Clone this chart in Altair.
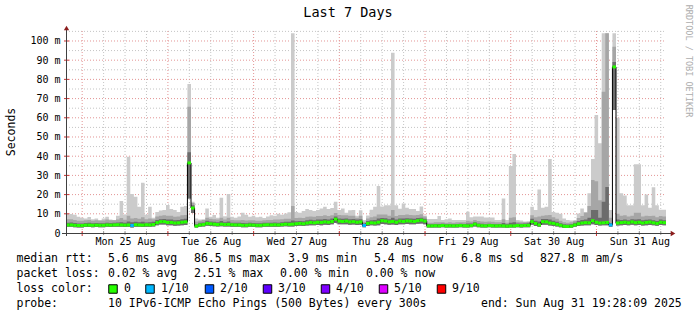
import altair as alt
import pandas as pd

START = "2025-08-24 19:28:09"

# hourly smoke/median values in milliseconds (axis shows "m" = milli-seconds)
mx = [9.9, 9.9, 9.5, 8.5, 8.0, 7.6, 8.3, 7.2, 7.6, 6.8, 7.6, 8.5,
      7.0, 6.8, 9.0, 16.7, 9.5, 39.7, 20.3, 18.9, 13.7, 26.2, 9.5, 13.7,
      8.0, 11.0, 11.7, 12.0, 14.6, 12.5, 12.0, 11.0, 13.7, 14.0, 77.6, 16.3,
      7.6, 7.0, 7.2, 12.8, 8.5, 9.4, 8.0, 18.4, 8.7, 20.3, 8.5, 8.0,
      8.6, 10.6, 9.5, 8.5, 9.0, 8.2, 8.5, 7.8, 8.6, 9.2, 9.0, 10.0,
      9.5, 10.2, 10.8, 104.0, 11.0, 10.5, 11.5, 12.5, 12.0, 11.5, 12.0, 12.8,
      13.7, 12.5, 13.0, 16.3, 12.0, 12.8, 10.6, 11.8, 12.0, 9.0, 11.8, 6.8,
      9.1, 12.1, 13.7, 24.5, 13.8, 14.5, 14.5, 93.9, 14.5, 12.6, 15.4, 13.2,
      12.5, 12.5, 11.4, 13.8, 9.1, 7.3, 7.3, 7.3, 8.9, 6.8, 7.2, 7.6,
      6.8, 6.8, 6.8, 6.8, 11.1, 8.2, 8.6, 8.6, 8.6, 8.1, 8.1, 8.1,
      6.8, 6.8, 18.0, 6.8, 34.9, 41.1, 6.8, 6.5, 6.0, 6.0, 13.7, 12.0,
      22.7, 13.2, 13.7, 38.5, 11.0, 10.6, 10.0, 7.6, 6.8, 6.5, 6.5, 10.2,
      12.8, 11.0, 20.7, 38.5, 61.5, 46.7, 104.0, 104.0, 12.0, 104.0, 60.0, 20.7,
      19.5, 14.5, 14.5, 35.8, 35.8, 14.5, 20.0, 13.2, 23.8, 14.5, 12.1, 12.1]

u2 = [7.2, 7.2, 6.8, 6.4, 6.4, 6.6, 6.8, 6.4, 6.6, 6.4, 6.5, 7.0,
      6.6, 6.6, 7.0, 7.8, 6.9, 9.0, 7.6, 7.8, 7.4, 8.2, 7.2, 7.6,
      7.2, 8.6, 9.0, 9.2, 9.0, 9.0, 8.5, 8.6, 9.2, 9.4, 65.8, 15.6,
      6.0, 6.4, 6.8, 8.0, 7.4, 7.2, 7.0, 8.0, 7.0, 8.0, 6.8, 6.6,
      6.6, 6.8, 6.5, 6.6, 6.6, 6.4, 6.4, 6.6, 6.8, 6.8, 7.0, 7.0,
      7.2, 7.4, 7.4, 14.0, 7.8, 8.0, 7.8, 8.4, 8.6, 8.4, 8.8, 8.8,
      9.2, 8.8, 9.2, 10.4, 9.4, 9.2, 9.2, 9.0, 9.0, 8.0, 9.0, 5.8,
      7.6, 8.2, 8.6, 9.6, 9.6, 9.6, 9.0, 12.0, 8.8, 9.4, 9.4, 9.6,
      9.4, 9.2, 9.4, 9.8, 8.6, 5.4, 5.4, 5.6, 5.6, 5.6, 5.4, 5.6,
      5.4, 5.6, 5.6, 5.6, 6.4, 6.0, 6.8, 6.2, 6.0, 5.8, 6.0, 5.8,
      5.6, 5.6, 7.2, 5.4, 8.0, 8.2, 5.8, 5.6, 5.6, 5.8, 9.2, 8.2,
      8.6, 9.0, 9.2, 9.4, 8.2, 7.4, 6.4, 5.6, 5.4, 5.6, 6.4, 7.8,
      8.8, 10.5, 14.0, 27.6, 27.0, 17.0, 73.5, 104.0, 8.0, 97.0, 10.0, 9.0,
      9.2, 8.6, 9.0, 10.5, 10.5, 8.6, 9.0, 8.8, 9.0, 8.2, 8.8, 8.6]

u3 = [5.4, 5.5, 5.2, 5.0, 5.0, 5.2, 5.3, 5.1, 5.2, 5.1, 5.1, 5.4,
      5.2, 5.3, 5.5, 5.6, 5.3, 6.0, 5.6, 5.8, 5.6, 5.9, 5.5, 5.6,
      5.8, 6.8, 7.2, 7.3, 7.0, 7.0, 6.6, 6.8, 7.2, 7.4, 42.0, 14.5,
      4.6, 5.3, 5.5, 6.4, 6.0, 5.8, 5.6, 6.2, 5.6, 6.0, 5.4, 5.3,
      5.3, 5.2, 5.1, 5.3, 5.2, 5.1, 5.1, 5.3, 5.4, 5.4, 5.5, 5.4,
      5.6, 5.8, 5.8, 6.5, 6.1, 6.3, 6.1, 6.6, 6.9, 6.7, 7.0, 7.0,
      7.3, 7.0, 7.5, 8.6, 7.6, 7.4, 7.6, 7.2, 7.3, 7.0, 7.2, 5.0,
      6.3, 6.7, 6.8, 7.5, 7.8, 7.7, 7.2, 8.0, 7.0, 7.6, 7.5, 7.7,
      7.6, 7.4, 7.8, 8.0, 7.4, 4.6, 4.6, 4.7, 4.7, 4.8, 4.6, 4.7,
      4.6, 4.7, 4.8, 4.7, 4.9, 4.9, 5.6, 5.0, 4.8, 4.6, 4.8, 4.7,
      4.6, 4.7, 5.2, 4.5, 5.4, 5.6, 4.9, 4.8, 4.9, 5.1, 7.4, 6.4,
      6.0, 7.3, 7.3, 7.0, 6.4, 5.8, 5.1, 4.5, 4.4, 4.6, 5.3, 6.2,
      6.8, 7.0, 8.0, 12.0, 12.0, 8.0, 16.3, 24.0, 5.2, 89.0, 7.0, 6.8,
      7.0, 6.6, 7.2, 7.0, 7.2, 6.6, 6.9, 7.0, 6.7, 6.3, 7.0, 6.7]

med = [4.2, 4.2, 4.0, 3.9, 3.9, 4.1, 4.1, 4.0, 4.1, 4.0, 4.0, 4.2,
       4.1, 4.2, 4.3, 4.2, 4.1, 4.2, 3.9, 4.3, 4.2, 4.1, 4.3, 4.2,
       4.4, 5.4, 5.9, 5.9, 5.5, 5.5, 5.2, 5.3, 5.6, 5.8, 36.5, 13.0,
       3.6, 4.2, 4.4, 5.0, 4.8, 4.6, 4.4, 4.6, 4.4, 4.5, 4.3, 4.2,
       4.2, 4.0, 4.0, 4.2, 4.1, 4.0, 4.0, 4.2, 4.3, 4.2, 4.3, 4.2,
       4.4, 4.6, 4.5, 4.6, 4.8, 5.0, 4.8, 5.2, 5.5, 5.3, 5.6, 5.5,
       5.8, 5.6, 6.0, 7.2, 6.2, 6.0, 6.2, 5.8, 5.9, 5.6, 5.8, 3.9,
       5.0, 5.3, 5.2, 5.6, 6.4, 6.2, 5.8, 6.0, 5.6, 6.2, 6.0, 6.3,
       6.2, 6.0, 6.4, 6.7, 6.2, 3.7, 3.7, 3.8, 3.7, 3.9, 3.7, 3.8,
       3.7, 3.8, 3.9, 3.8, 3.7, 3.9, 4.6, 4.0, 3.8, 3.7, 3.9, 3.8,
       3.7, 3.8, 3.7, 3.6, 3.7, 3.7, 3.9, 3.8, 3.9, 4.0, 5.9, 5.0,
       4.2, 5.9, 5.8, 5.2, 5.0, 4.5, 4.0, 3.5, 3.4, 3.6, 4.2, 4.8,
       5.2, 5.4, 5.3, 6.4, 5.6, 5.2, 5.3, 5.5, 4.2, 86.5, 5.2, 5.4,
       5.6, 5.3, 5.8, 5.4, 5.6, 5.2, 5.5, 5.7, 5.3, 5.0, 5.6, 5.4]

lo = [3.2, 3.2, 3.0, 2.9, 2.9, 3.1, 3.1, 3.0, 3.1, 3.0, 3.0, 3.2,
      3.1, 3.2, 3.3, 3.2, 3.1, 3.2, 2.9, 3.3, 3.2, 3.1, 3.3, 3.2,
      3.4, 4.0, 4.4, 4.4, 4.0, 4.0, 3.8, 3.9, 4.1, 4.2, 18.0, 10.4,
      2.8, 3.2, 3.4, 3.8, 3.6, 3.5, 3.4, 3.5, 3.4, 3.4, 3.3, 3.2,
      3.2, 3.0, 3.0, 3.2, 3.1, 3.0, 3.0, 3.2, 3.3, 3.2, 3.3, 3.2,
      3.4, 3.5, 3.4, 3.4, 3.6, 3.8, 3.6, 3.9, 4.1, 4.0, 4.2, 4.1,
      4.3, 4.2, 4.5, 5.2, 4.6, 4.5, 4.6, 4.3, 4.4, 4.2, 4.3, 3.0,
      3.7, 4.0, 3.9, 4.1, 4.7, 4.6, 4.3, 4.4, 4.2, 4.6, 4.5, 4.7,
      4.6, 4.5, 4.8, 5.0, 4.6, 2.8, 2.8, 2.9, 2.8, 3.0, 2.8, 2.9,
      2.8, 2.9, 3.0, 2.9, 2.8, 3.0, 3.4, 3.0, 2.9, 2.8, 3.0, 2.9,
      2.8, 2.9, 2.8, 2.7, 2.8, 2.8, 3.0, 2.9, 3.0, 3.0, 4.3, 3.7,
      3.2, 4.3, 4.3, 3.9, 3.7, 3.4, 3.0, 2.6, 2.6, 2.7, 3.2, 3.6,
      3.9, 4.0, 4.0, 4.6, 4.2, 3.9, 4.0, 4.1, 3.2, 64.0, 3.9, 4.0,
      4.2, 4.0, 4.3, 4.0, 4.2, 3.9, 4.1, 4.2, 4.0, 3.8, 4.2, 4.0]

loss_1of10_hours = [18, 83, 152]

LOSS_LABELS = ["0", "1/10", "2/10", "3/10", "4/10", "5/10", "9/10"]
LOSS_COLORS = ["#26ff00", "#00b8ff", "#0059ff", "#5e00ff", "#7e00ff", "#dd00ff", "#ff0000"]

RTT_STATS = ["5.6 ms avg", "86.5 ms max", "3.9 ms min", "5.4 ms now", "6.8 ms sd", "827.8 m am/s"]
LOSS_STATS = ["0.02 % avg", "2.51 % max", "0.00 % min", "0.00 % now"]
PROBE = "10 IPv6-ICMP Echo Pings (500 Bytes) every 300s"
END_TXT = "end: Sun Aug 31 19:28:09 2025"
DAYS = [25, 26, 27, 28, 29, 30, 31]

MONO = "DejaVu Sans Mono"
W, H = 600, 202
OX, OY = 66, 31

n = len(med)
fmt = "%Y-%m-%dT%H:%M:%S"
times = pd.date_range(START, periods=n + 1, freq="h")
ts = [t.strftime(fmt) for t in times]

smoke = pd.DataFrame({
    "t": ts,
    "lo": lo + [lo[-1]], "u3": u3 + [u3[-1]], "u2": u2 + [u2[-1]],
    "mx": mx + [mx[-1]], "med": med + [med[-1]],
})
seg = pd.DataFrame({
    "t": ts[:-1], "t2": ts[1:], "med": med,
    "loss": ["1/10" if i in loss_1of10_hours else "0" for i in range(n)],
})

t0 = times[0]
t_end = times[-1]
six = pd.date_range("2025-08-24 00:00:00", "2025-09-01 00:00:00", freq="6h")
six = [t for t in six if t0 < t < t_end]
majors = pd.DataFrame({"t": [t.strftime(fmt) for t in six if t.hour == 0]})
minors = pd.DataFrame({"t": [t.strftime(fmt) for t in six if t.hour != 0]})
hmaj = pd.DataFrame({"v": list(range(10, 101, 10))})
hmin = pd.DataFrame({"v": list(range(5, 106, 10))})

xscale = alt.Scale(domain=[alt.DateTime(year=2025, month=8, date=24, hours=19, minutes=28, seconds=9),
                           alt.DateTime(year=2025, month=8, date=31, hours=19, minutes=28, seconds=9)])
yscale = alt.Scale(domain=[0, 105.2], nice=False, zero=True)

xaxis = alt.Axis(values=[alt.DateTime(year=2025, month=8, date=d, hours=12) for d in DAYS],
                 format="%a %d %b", labelFont=MONO, labelFontSize=10, labelColor="black",
                 ticks=False, domain=False, grid=False, labelPadding=3, labelFlush=False, title=None)
yaxis = alt.Axis(values=list(range(0, 101, 10)),
                 labelExpr="datum.value == 0 ? '0\u00a0\u00a0' : datum.value + ' m'",
                 labelFont=MONO, labelFontSize=10, labelColor="black", ticks=False,
                 domain=False, grid=False, labelPadding=6, title=None)


def X(f="t:T"):
    return alt.X(f, scale=xscale, axis=xaxis)


def Y(f):
    return alt.Y(f, scale=yscale, axis=yaxis)


DOT = [1, 2]
layers = []

# grid
layers.append(alt.Chart(minors).mark_rule(color="#c4c4c4", strokeDash=DOT, strokeWidth=1).encode(
    x=X(), y=alt.value(0), y2=alt.value(H)))
layers.append(alt.Chart(hmin).mark_rule(color="#c4c4c4", strokeDash=DOT, strokeWidth=1).encode(
    y=Y("v:Q"), x=alt.value(0), x2=alt.value(W)))
layers.append(alt.Chart(majors).mark_rule(color="#e39494", strokeDash=DOT, strokeWidth=1).encode(
    x=X(), y=alt.value(0), y2=alt.value(H)))
layers.append(alt.Chart(hmaj).mark_rule(color="#e39494", strokeDash=DOT, strokeWidth=1).encode(
    y=Y("v:Q"), x=alt.value(0), x2=alt.value(W)))

# smoke
for top, col in [("mx", "#cbcbcb"), ("u2", "#a6a6a6"), ("u3", "#6c6c6c")]:
    layers.append(alt.Chart(smoke).mark_area(interpolate="step-after", color=col, clip=True).encode(
        x=X(), y=Y("lo:Q"), y2=alt.Y2(f"{top}:Q")))

# median
layers.append(alt.Chart(smoke).mark_line(interpolate="step-after", color="black", strokeWidth=1, clip=True).encode(
    x=X(), y=Y("med:Q")))
layers.append(alt.Chart(seg).mark_rule(strokeWidth=3, strokeCap="butt", clip=True).encode(
    x=X(), x2="t2:T", y=Y("med:Q"),
    color=alt.Color("loss:N", scale=alt.Scale(domain=LOSS_LABELS, range=LOSS_COLORS), legend=None)))

# axis ticks
layers.append(alt.Chart(minors).mark_rule(color="#999999").encode(
    x=X(), y=alt.value(H - 2), y2=alt.value(H + 2)))
layers.append(alt.Chart(majors).mark_rule(color="#cc3333").encode(
    x=X(), y=alt.value(H - 2), y2=alt.value(H + 3)))
layers.append(alt.Chart(hmaj).mark_rule(color="#cc3333").encode(
    y=Y("v:Q"), x=alt.value(-2), x2=alt.value(3)))

one = pd.DataFrame({"a": [0]})
# axis lines + arrows
layers.append(alt.Chart(one).mark_rule(color="#404040", strokeWidth=1).encode(
    x=alt.value(-4), x2=alt.value(606), y=alt.value(H + 0.5)))
layers.append(alt.Chart(one).mark_rule(color="#404040", strokeWidth=1).encode(
    x=alt.value(0.5), y=alt.value(H + 3), y2=alt.value(-3)))
layers.append(alt.Chart(one).mark_point(shape="triangle-up", filled=True, size=28, color="#8b1c1c", opacity=1).encode(
    x=alt.value(0.5), y=alt.value(-3)))
layers.append(alt.Chart(one).mark_point(shape="triangle-right", filled=True, size=28, color="#8b1c1c", opacity=1).encode(
    x=alt.value(607), y=alt.value(H + 0.5)))


def txt(s, x, y, size=11.5, align="left", color="black", angle=0):
    return alt.Chart(one).mark_text(text=s, font=MONO, fontSize=size, align=align, baseline="middle",
                                    color=color, angle=angle).encode(x=alt.value(x - OX), y=alt.value(y - OY))


layers.append(txt("Last 7 Days", 348, 13, size=13.5, align="center"))
layers.append(txt("Seconds", 12, 132, size=11.5, align="center", angle=270))
layers.append(txt("RRDTOOL / TOBI OETIKER", 689, 61, size=8.5, align="center", color="#adadad", angle=90))

L1, L2, L3, L4 = 259, 274, 289, 304
layers.append(txt("median rtt:", 16.5, L1))
for s, x in zip(RTT_STATS, [108, 194, 288, 374, 461, 540]):
    layers.append(txt(s, x, L1))
layers.append(txt("packet loss:", 16.5, L2))
for s, x in zip(LOSS_STATS, [108, 194, 280, 366]):
    layers.append(txt(s, x, L2))
layers.append(txt("loss color:", 16.5, L3))
for lab, col, bx, lx in zip(LOSS_LABELS, LOSS_COLORS,
                            [113, 150, 209.5, 267.5, 325.5, 383.5, 441.5],
                            [124, 161, 220, 278, 336, 394, 452]):
    layers.append(alt.Chart(one).mark_square(size=72, fill=col, stroke="black", strokeWidth=1, opacity=1).encode(
        x=alt.value(bx - OX), y=alt.value(L3 - OY)))
    layers.append(txt(lab, lx, L3))
layers.append(txt("probe:", 16.5, L4))
layers.append(txt(PROBE, 108, L4))
layers.append(txt(END_TXT, 481, L4))

chart = alt.layer(*layers).properties(
    width=W, height=H,
    autosize=alt.AutoSizeParams(type="none"),
    padding={"left": OX, "top": OY, "right": 697 - OX - W, "bottom": 315 - OY - H},
    background="white",
).configure_view(stroke=None)

chart.save("out.html", embed_options={"renderer": "svg", "actions": False})
